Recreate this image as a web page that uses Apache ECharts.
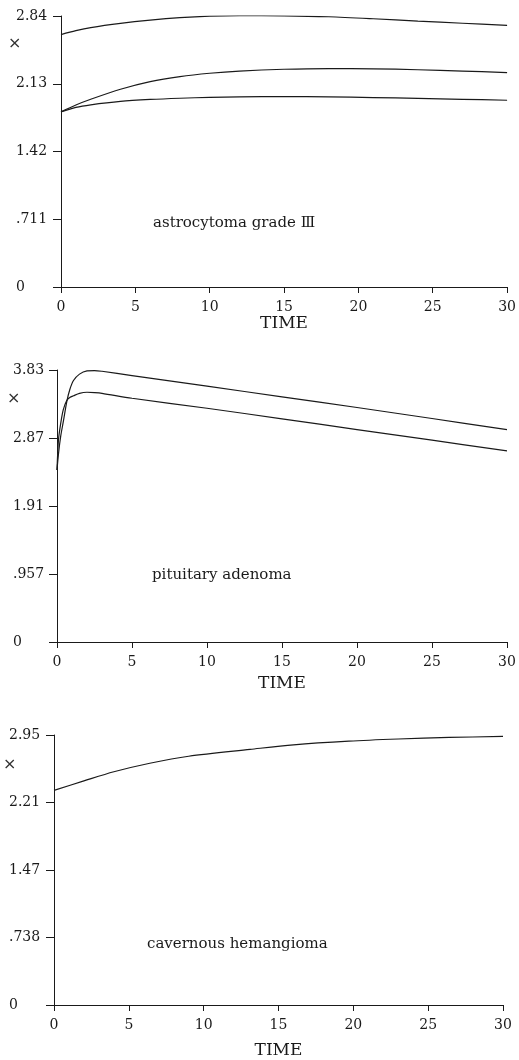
<!DOCTYPE html>
<html>
<head>
<meta charset="utf-8">
<title>x vs TIME</title>
<script src="https://cdn.jsdelivr.net/npm/echarts/dist/echarts.min.js"></script>
<style>
  html, body { margin: 0; padding: 0; background: #fff; }
  #chart { width: 519px; height: 1060px; }
</style>
</head>
<body>
<div id="chart"></div>
<script>
// x-axis ticks (shared by all panels)
const timeTicks = [0, 5, 10, 15, 20, 25, 30];

// panel 1 - astrocytoma grade III
const time1 = [0, 1, 2, 4, 6, 8, 10, 12, 15, 18, 21, 24, 27, 30];
const astroA = [2.649, 2.69, 2.722, 2.766, 2.8, 2.826, 2.842, 2.848, 2.846, 2.836, 2.815, 2.79, 2.768, 2.746];
const astroB = [1.838, 1.91, 1.97, 2.075, 2.155, 2.208, 2.243, 2.266, 2.285, 2.292, 2.29, 2.28, 2.266, 2.25];
const astroC = [1.838, 1.885, 1.912, 1.948, 1.968, 1.981, 1.99, 1.995, 1.998, 1.995, 1.988, 1.98, 1.97, 1.96];
const yLabels1 = ['0', '.711', '1.42', '2.13', '2.84'];

// panel 2 - pituitary adenoma
const time2 = [0, 0.1, 0.25, 0.42, 0.65, 0.85, 1.1, 1.5, 2, 2.5, 3, 5, 10, 15, 20, 25, 30];
const pituA = [2.42, 2.65, 2.9, 3.1, 3.38, 3.55, 3.68, 3.77, 3.815, 3.82, 3.81, 3.75, 3.6, 3.45, 3.3, 3.145, 2.99];
const pituB = [2.42, 2.85, 3.08, 3.27, 3.4, 3.44, 3.465, 3.5, 3.515, 3.51, 3.5, 3.43, 3.29, 3.14, 2.99, 2.84, 2.69];
const yLabels2 = ['0', '.957', '1.91', '2.87', '3.83'];

// panel 3 - cavernous hemangioma
const time3 = [0, 2, 4, 6.4, 9, 13.1, 16, 19.7, 23, 26.4, 30];
const caveA = [2.346, 2.45, 2.55, 2.643, 2.72, 2.795, 2.845, 2.885, 2.908, 2.925, 2.936];
const yLabels3 = ['0', '.738', '1.47', '2.21', '2.95'];

const panelNames = ['astrocytoma grade Ⅲ', 'pituitary adenoma', 'cavernous hemangioma'];

const FONT = 'DejaVu Serif';
const INK = '#1a1a1a';

const chart = echarts.init(document.getElementById('chart'), null, { renderer: 'canvas' });

// grid boxes
const grids = [
  { left: 61, top: 16, width: 449, height: 271 },
  { left: 57, top: 370, width: 450, height: 272 },
  { left: 54, top: 735, width: 449, height: 272 }
];
const yIntervals = [0.711, 0.957, 0.738];
const yLabelSets = [yLabels1, yLabels2, yLabels3];
const labelMargins = [45, 44, 45];
const timeNameGaps = [26, 33, 37];

function pairs(ts, vs) {
  return ts.map((t, i) => [t, vs[i]]);
}

const xAxes = grids.map((g, i) => ({
  type: 'value',
  gridIndex: i,
  min: timeTicks[0],
  max: timeTicks[timeTicks.length - 1],
  interval: timeTicks[1] - timeTicks[0],
  name: 'TIME',
  nameLocation: 'middle',
  nameGap: timeNameGaps[i],
  nameTextStyle: { fontFamily: FONT, fontSize: 17, color: INK },
  axisLine: { lineStyle: { color: INK, width: 1 } },
  axisTick: { inside: false, length: 6, lineStyle: { color: INK } },
  axisLabel: { fontFamily: FONT, fontSize: 14, color: INK, margin: 13 },
  splitLine: { show: false }
}));

const yAxes = grids.map((g, i) => ({
  type: 'value',
  gridIndex: i,
  min: 0,
  max: yIntervals[i] * 4,
  interval: yIntervals[i],
  axisLine: { show: true, lineStyle: { color: INK, width: 1 } },
  axisTick: { show: true, length: 8, lineStyle: { color: INK } },
  axisLabel: {
    fontFamily: FONT,
    fontSize: 14,
    color: INK,
    align: 'left',
    margin: labelMargins[i],
    formatter: (val, idx) => yLabelSets[i][idx]
  },
  splitLine: { show: false }
}));

const lineStyle = { color: INK, width: 1.2 };
function curve(idx, ts, vs) {
  return {
    type: 'line',
    xAxisIndex: idx,
    yAxisIndex: idx,
    data: pairs(ts, vs),
    smooth: 0.3,
    showSymbol: false,
    lineStyle: lineStyle,
    silent: true
  };
}

const series = [
  curve(0, time1, astroA),
  curve(0, time1, astroB),
  curve(0, time1, astroC),
  curve(1, time2, pituA),
  curve(1, time2, pituB),
  curve(2, time3, caveA)
];

// the "×" marks at the y axes and the panel captions
const crossPos = [[14, 45], [13, 400], [9, 766]];
const captionPos = [[153, 222], [152, 574], [147, 943]];
const graphics = [];
crossPos.forEach(p => {
  graphics.push({
    type: 'text', left: p[0] - 6, top: p[1] - 9,
    style: { text: '×', fontFamily: 'DejaVu Sans', fontSize: 16, fill: '#333' }
  });
});
captionPos.forEach((p, i) => {
  graphics.push({
    type: 'text', left: p[0], top: p[1] - 6,
    style: { text: panelNames[i], fontFamily: FONT, fontSize: 15, fill: INK }
  });
});

chart.setOption({
  animation: false,
  backgroundColor: '#fff',
  grid: grids,
  xAxis: xAxes,
  yAxis: yAxes,
  series: series,
  graphic: graphics
});
</script>
</body>
</html>
